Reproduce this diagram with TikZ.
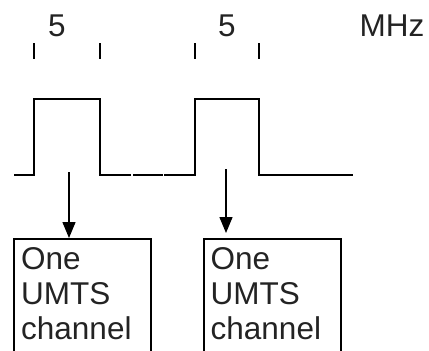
\documentclass[tikz,border=0pt]{standalone}
\usepackage{fontspec}
\setmainfont{Liberation Sans}
\usetikzlibrary{arrows.meta}
\definecolor{txt}{HTML}{232323}
\tikzset{
  lbl/.style={font=\fontsize{31.5}{35}\selectfont, text=txt, inner sep=0pt},
  tick/.style={line width=2.5pt},
  sig/.style={line width=2.6pt},
  chbox/.style={draw, line width=2.3pt, anchor=north west, minimum width=137pt, minimum height=130pt, inner sep=0pt},
  chtext/.style={lbl, align=left, anchor=north west},
  arr/.style={line width=1.5pt, -{Triangle[width=13pt,length=16pt]}}
}
\begin{document}
\begin{tikzpicture}[x=1pt,y=-1pt]
\useasboundingbox (0,0) rectangle (429,351);
\clip (0,0) rectangle (429,351);
% labels
\node[lbl, anchor=base] (f1) at (57,36) {5};
\node[lbl, anchor=base] (f2) at (227,36) {5};
\node[lbl, anchor=base] (unit) at (392,36) {MHz};
% ticks
\draw[tick] (34,43) -- (34,59);
\draw[tick] (100,43) -- (100,59);
\draw[tick] (195,43) -- (195,59);
\draw[tick] (259,43) -- (259,59);
% signal
\draw[sig] (14,175) -- (34,175) -- (34,99) -- (100,99) -- (100,175) -- (131,175);
\draw[sig] (133,175) -- (163,175);
\draw[sig] (164,175) -- (195,175) -- (195,99) -- (259,99) -- (259,175) -- (353,175);
% boxes
\node[chbox] (box1) at (13,238) {};
\node[chbox] (box2) at (203,238) {};
\node[chtext] (t1) at (21,247.5) {One\\UMTS\\channel};
\node[chtext] (t2) at (210.5,247.5) {One\\UMTS\\channel};
% arrows
\coordinate (a1) at (69,172);
\coordinate (a2) at (226,169);
\draw[arr] (a1) -- (a1 |- box1.north);
\draw[arr] (a2) -- ([yshift=5pt]a2 |- box2.north);
\end{tikzpicture}
\end{document}
